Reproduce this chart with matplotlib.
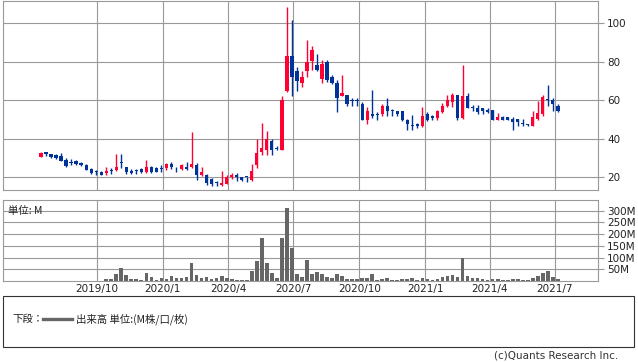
import matplotlib
matplotlib.use("Agg")
import matplotlib.pyplot as plt
import pandas as pd
from matplotlib.lines import Line2D
from matplotlib.patches import Rectangle

OUTPUT_FILE = "out.png"

# weekly candles (open / high / low / close), volume in millions
opens = [30.7, 33.1, 32.1, 31.4, 31.2, 29.0, 27.6, 28.2, 27.2, 26.4,
         24.3, 22.9, 22.4, 21.9, 23.3, 23.8, 27.8, 25.2, 23.4, 23.3,
         24.0, 22.6, 25.2, 24.7, 24.3, 24.7, 26.7, 25.2, 24.0, 25.5,
         25.2, 26.4, 20.9, 21.2, 19.1, 16.9, 15.7, 16.6, 19.9, 21.2,
         20.1, 20.0, 18.4, 26.2, 33.3, 34.1, 39.0, 35.2, 34.2, 64.6,
         83.1, 75.3, 68.8, 75.0, 80.5, 78.4, 71.0, 80.0, 72.2, 69.1,
         62.4, 62.4, 59.5, 59.5, 58.1, 49.8, 52.9, 52.2, 52.6, 57.1,
         54.6, 54.1, 54.1, 49.8, 46.9, 47.7, 46.5, 52.9, 51.9, 50.7,
         53.8, 57.1, 59.0, 62.7, 50.7, 62.4, 56.0, 56.0, 56.0, 55.0,
         55.0, 49.8, 51.2, 51.2, 50.2, 50.2, 47.8, 47.0, 46.5, 50.3,
         52.6, 60.3, 60.3, 57.2]
highs = [33.3, 33.3, 32.2, 32.2, 32.4, 29.8, 29.5, 29.1, 28.0, 27.0,
         24.5, 23.8, 23.3, 25.2, 24.7, 32.0, 32.0, 25.5, 24.3, 24.3,
         24.5, 29.0, 25.9, 25.5, 26.4, 27.2, 27.9, 25.2, 27.0, 27.9,
         43.6, 27.2, 25.5, 21.5, 19.5, 17.8, 23.3, 21.2, 22.2, 22.0,
         20.3, 20.1, 27.0, 39.6, 48.0, 44.0, 39.8, 36.0, 62.0, 108.4,
         101.7, 77.4, 75.3, 91.4, 88.2, 84.1, 80.9, 81.0, 73.3, 70.2,
         73.3, 62.9, 61.2, 61.2, 59.0, 56.4, 65.0, 53.8, 58.1, 61.2,
         55.5, 54.6, 54.1, 50.3, 52.1, 48.3, 56.4, 54.0, 52.4, 55.0,
         58.4, 62.4, 63.9, 62.7, 78.4, 63.9, 57.7, 57.7, 56.0, 56.0,
         55.0, 53.3, 51.9, 51.2, 51.2, 50.2, 50.2, 47.7, 54.1, 59.5,
         62.4, 68.1, 61.2, 58.1]
lows = [30.5, 31.0, 30.0, 29.6, 28.5, 25.2, 26.4, 26.5, 26.0, 23.6,
        21.5, 21.2, 20.9, 21.0, 21.5, 23.0, 24.7, 21.5, 21.8, 21.7,
        22.2, 22.0, 21.9, 22.7, 22.9, 23.8, 24.3, 22.9, 23.8, 23.9,
        24.7, 18.6, 20.5, 15.7, 15.2, 15.5, 15.5, 16.3, 18.8, 17.8,
        18.0, 17.6, 18.2, 24.5, 31.6, 31.6, 31.6, 34.0, 34.0, 64.0,
        62.0, 64.6, 66.7, 71.9, 75.8, 75.0, 68.8, 69.5, 68.5, 53.8,
        62.0, 56.7, 57.1, 57.1, 49.5, 47.4, 50.9, 49.8, 51.5, 51.9,
        51.9, 51.9, 49.1, 44.6, 44.6, 45.5, 46.0, 49.1, 49.5, 49.8,
        53.3, 56.4, 56.4, 49.5, 50.3, 55.8, 54.6, 52.6, 52.6, 53.3,
        49.8, 49.8, 49.8, 49.8, 44.6, 46.4, 46.4, 46.4, 46.5, 49.8,
        51.9, 56.7, 54.6, 53.8]
closes = [32.4, 31.9, 30.7, 29.8, 28.6, 26.0, 27.3, 26.7, 26.2, 23.8,
          22.1, 22.8, 21.0, 23.3, 23.1, 25.3, 27.3, 22.6, 22.0, 23.2,
          22.4, 25.5, 22.9, 22.9, 24.2, 26.7, 25.0, 25.0, 26.4, 24.0,
          26.9, 20.9, 22.4, 16.9, 16.4, 16.8, 17.1, 20.0, 21.2, 19.9,
          18.6, 19.9, 23.1, 32.4, 35.1, 39.8, 34.1, 34.8, 60.0, 83.1,
          71.9, 69.8, 72.2, 79.6, 86.2, 75.8, 78.6, 70.6, 69.1, 61.2,
          63.8, 58.1, 59.4, 59.4, 49.8, 54.1, 51.7, 52.1, 57.1, 54.6,
          54.5, 52.6, 49.8, 47.4, 46.8, 46.5, 51.9, 49.8, 50.7, 54.1,
          57.2, 60.2, 62.4, 50.7, 62.4, 55.8, 55.9, 53.8, 54.6, 53.8,
          49.8, 51.2, 49.8, 49.8, 48.6, 48.6, 47.7, 46.9, 51.2, 53.3,
          61.5, 60.1, 58.1, 54.6]
volumes = [0.8, 0.8, 0.8, 0.8, 0.8, 0.8, 0.8, 0.8, 0.8, 0.8,
           0.8, 0.8, 0.8, 7, 7, 29, 56, 24, 7, 7,
           3, 33, 17, 3, 11, 7, 20, 11, 11, 16,
           76, 24, 11, 16, 7, 11, 20, 11, 7, 4,
           3, 3, 41, 84, 183, 76, 33, 11, 183, 312,
           141, 29, 16, 89, 29, 37, 29, 16, 11, 29,
           20, 7, 7, 7, 11, 11, 29, 3, 7, 11,
           3, 3, 7, 7, 11, 3, 11, 7, 3, 7,
           16, 20, 24, 16, 97, 20, 11, 11, 7, 3,
           7, 7, 3, 3, 7, 7, 3, 3, 11, 20,
           33, 41, 16, 7]

first_week = "2019-07-15"
quarter_dates = ["2019-10-01", "2020-01-01", "2020-04-01", "2020-07-01",
                 "2020-10-01", "2021-01-01", "2021-04-01", "2021-07-01"]
quarter_labels = ["2019/10", "2020/1", "2020/4", "2020/7",
                  "2020/10", "2021/1", "2021/4", "2021/7"]
price_ticks = [20, 40, 60, 80, 100]
volume_ticks = [50, 100, 150, 200, 250, 300]

UP = "#ff0033"
DOWN = "#003399"
VOL = "#666666"
GRID = "#999999"
JP = ["Noto Sans CJK JP", "DejaVu Sans"]

W, H = 638, 362


def box(x0, y0, x1, y1):
    # pixel box (top-left origin) -> figure fraction
    return [x0 / W, 1 - y1 / H, (x1 - x0) / W, (y1 - y0) / H]


def style(ax):
    for s in ax.spines.values():
        s.set_color(GRID)
        s.set_linewidth(0.8)
    ax.grid(True, color=GRID, linewidth=0.8)
    ax.set_axisbelow(True)
    ax.yaxis.tick_right()
    ax.tick_params(axis="y", length=4.5, width=0.8, color=GRID,
                   labelsize=7.5, labelcolor="#222222", pad=2)
    ax.tick_params(axis="x", length=0, labelsize=7.5, labelcolor="#222222")


def main():
    df = pd.DataFrame({"open": opens, "high": highs, "low": lows,
                       "close": closes, "volume": volumes})
    df["date"] = pd.date_range(first_week, periods=len(df), freq="7D")
    colors = [UP if c >= o else DOWN for o, c in zip(df["open"], df["close"])]
    body_low = df[["open", "close"]].min(axis=1)
    body_h = (df["close"] - df["open"]).abs().clip(lower=0.45)

    fig = plt.figure(figsize=(W / 100, H / 100), dpi=100)

    ax = fig.add_axes(box(3, 1, 598, 190))
    axv = fig.add_axes(box(3, 200, 598, 281), sharex=ax)

    ax.vlines(df["date"], df["low"], df["high"], colors=colors, linewidth=1.0)
    ax.bar(df["date"], body_h, bottom=body_low, width=4.6, color=colors,
           linewidth=0)
    ax.set_ylim(13.3, 111.5)
    ax.set_yticks(price_ticks)
    style(ax)
    ax.tick_params(axis="x", labelbottom=False)

    axv.bar(df["date"], df["volume"], width=5.2, color=VOL, linewidth=0)
    axv.set_ylim(0, 345)
    axv.set_yticks(volume_ticks)
    axv.set_yticklabels([f"{v}M" for v in volume_ticks])
    style(axv)
    axv.set_xticks(pd.to_datetime(quarter_dates))
    axv.set_xticklabels(quarter_labels)
    axv.tick_params(axis="x", pad=2)
    axv.set_xlim(pd.Timestamp("2019-05-23"), pd.Timestamp("2021-08-30"))
    axv.text(0.008, 0.86, "単位: M", transform=axv.transAxes, fontsize=7.5,
             family=JP, color="#222222", va="center")

    # legend box
    fig.patches.append(Rectangle((3 / W, 1 - 347 / H), 631 / W, 51 / H,
                                 transform=fig.transFigure, fill=False,
                                 edgecolor="#333333", linewidth=0.8))
    fig.text(12 / W, 1 - 319 / H, "下段：", fontsize=7.5, family=JP,
             color="#222222", va="center")
    fig.lines.append(Line2D([43 / W, 72 / W], [1 - 319 / H, 1 - 319 / H],
                            transform=fig.transFigure, color=VOL, linewidth=2.4))
    fig.text(76 / W, 1 - 319 / H, "出来高 単位:(M株/口/枚)", fontsize=7.5,
             family=JP, color="#222222", va="center")
    fig.text(618 / W, 1 - 355 / H, "(c)Quants Research Inc.", fontsize=7.5,
             color="#333333", ha="right", va="center")

    fig.savefig(OUTPUT_FILE, dpi=100, facecolor="white")


if __name__ == "__main__":
    main()
